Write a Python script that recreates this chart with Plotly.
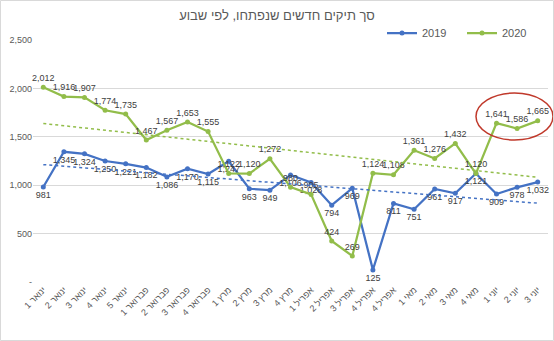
import numpy as np
import plotly.graph_objects as go

categories = ["ינואר 1", "ינואר 2", "ינואר 3", "ינואר 4", "ינואר 5",
              "פברואר 1", "פברואר 2", "פברואר 3", "פברואר 4",
              "מרץ 1", "מרץ 2", "מרץ 3", "מרץ 4",
              "אפריל 1", "אפריל 2", "אפריל 3", "אפריל 4", "אפריל 4",
              "מאי 1", "מאי 2", "מאי 3", "מאי 4",
              "יוני 1", "יוני 2", "יוני 3"]
values_2019 = [981, 1345, 1324, 1250, 1221, 1182, 1086, 1170, 1115, 1247, 963, 949, 1106,
               1028, 794, 969, 125, 811, 751, 961, 917, 1121, 909, 978, 1032]
values_2020 = [2012, 1916, 1907, 1774, 1735, 1467, 1567, 1653, 1555, 1122, 1120, 1272, 980,
               905, 424, 269, 1124, 1108, 1361, 1276, 1432, 1120, 1641, 1586, 1665]
y_ticks = [0, 500, 1000, 1500, 2000, 2500]
y_ticktext = ["-", "500", "1,000", "1,500", "2,000", "2,500"]

BLUE = "#4472C4"
GREEN = "#92BD4A"
FONT = "Liberation Sans"

x = list(range(len(categories)))

def trend(vals):
    p = np.polyfit(x, vals, 1)
    return list(np.polyval(p, x))

fig = go.Figure()
for name, vals, color, pos in [("2019", values_2019, BLUE, "bottom center"),
                               ("2020", values_2020, GREEN, "top center")]:
    fig.add_trace(go.Scatter(
        x=x, y=vals, name=name, mode="lines+markers+text",
        line=dict(color=color, width=2.25),
        marker=dict(color=color, size=5),
        text=[f"{v:,}" for v in vals], textposition=pos,
        textfont=dict(size=9, color="#404040", family=FONT),
        cliponaxis=False,
    ))
for vals, color in [(values_2019, BLUE), (values_2020, GREEN)]:
    fig.add_trace(go.Scatter(
        x=x, y=trend(vals), mode="lines", showlegend=False, hoverinfo="skip",
        line=dict(color=color, width=1.5, dash="dot"),
    ))

L, R, T, B = 33, 6, 40, 59
W, H = 554, 341
pw, ph = W - L - R, H - T - B

fig.update_layout(
    width=W, height=H,
    margin=dict(l=L, r=R, t=T, b=B, autoexpand=False),
    paper_bgcolor="white", plot_bgcolor="white",
    font=dict(family=FONT, color="#595959"),
    title=dict(text="סך תיקים חדשים שנפתחו, לפי שבוע", x=0.5, xref="container",
               y=1 - 15 / H, yref="container", yanchor="middle",
               font=dict(size=13, color="#595959", family=FONT)),
    showlegend=True,
    legend=dict(orientation="h", x=(382 - L) / pw, xanchor="left", y=1 + 7 / ph, yanchor="middle",
                font=dict(size=11, color="#595959"), entrywidth=35, bgcolor="rgba(0,0,0,0)",
                itemwidth=30),
    xaxis=dict(range=[-0.5, len(categories) - 0.5], tickvals=x, ticktext=categories,
               tickangle=-45, tickfont=dict(size=9, color="#595959"), showgrid=False,
               zeroline=False, showline=False, ticks="", automargin=False),
    yaxis=dict(range=[0, 2500], tickvals=y_ticks, ticktext=y_ticktext,
               tickfont=dict(size=9, color="#595959"), showgrid=True, gridcolor="#D9D9D9",
               gridwidth=1, zeroline=False, showline=False, ticks="", automargin=False),
    shapes=[
        dict(type="circle", xref="paper", yref="paper",
             x0=(476 - L) / pw, x1=(553 - L) / pw,
             y0=(282 - 140) / ph, y1=(282 - 93) / ph,
             line=dict(color="#C0392B", width=1.5)),
        dict(type="rect", xref="paper", yref="paper",
             x0=-(L - 0.5) / pw, x1=(W - 0.5 - L) / pw,
             y0=-(B - 0.5) / ph, y1=(H - 0.5 - B) / ph,
             line=dict(color="#D9D9D9", width=1)),
    ],
)
fig.write_html("out.html")
